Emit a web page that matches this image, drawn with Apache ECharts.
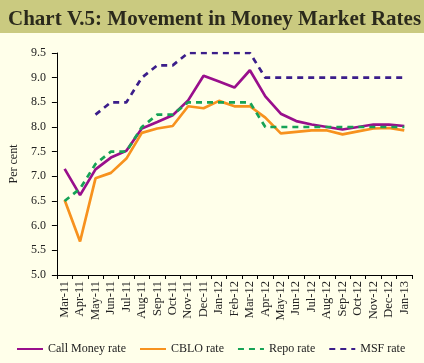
<!DOCTYPE html>
<html><head><meta charset="utf-8">
<script src="https://cdn.jsdelivr.net/npm/echarts@6/dist/echarts.min.js"></script>
<style>html,body{margin:0;padding:0;background:#FFFFEA;}#c{width:424px;height:363px;}</style>
</head><body><div id="c"></div>
<script>
const categories = ['Mar-11','Apr-11','May-11','Jun-11','Jul-11','Aug-11','Sep-11','Oct-11','Nov-11','Dec-11','Jan-12','Feb-12','Mar-12','Apr-12','May-12','Jun-12','Jul-12','Aug-12','Sep-12','Oct-12','Nov-12','Dec-12','Jan-13'];
const callMoney = [7.15,6.62,7.14,7.38,7.52,7.97,8.1,8.24,8.54,9.04,8.92,8.8,9.15,8.62,8.27,8.12,8.05,8.0,7.95,8.0,8.05,8.05,8.02];
const cblo = [6.52,5.68,6.96,7.07,7.36,7.88,7.97,8.02,8.42,8.38,8.53,8.42,8.42,8.19,7.87,7.9,7.93,7.93,7.85,7.91,7.97,7.98,7.93];
const repo = [6.5,6.75,7.25,7.5,7.5,8.0,8.25,8.25,8.5,8.5,8.5,8.5,8.5,8.0,8.0,8.0,8.0,8.0,8.0,8.0,8.0,8.0,8.0];
const msf = [null,null,8.25,8.5,8.5,9.0,9.25,9.25,9.5,9.5,9.5,9.5,9.5,9.0,9.0,9.0,9.0,9.0,9.0,9.0,9.0,9.0,9.0];
const yTicks = ['5.0','5.5','6.0','6.5','7.0','7.5','8.0','8.5','9.0','9.5'];

const serif = 'Liberation Serif';
const chart = echarts.init(document.getElementById('c'), null, {renderer:'canvas'});
function line(name, data, color, dashed){
  return {name, type:'line', data, showSymbol:false, symbol:'none', connectNulls:false,
    lineStyle:{color, width:2.7, type: dashed ? [6,5] : 'solid'}, itemStyle:{color}};
}
chart.setOption({
  backgroundColor:'#FFFFEA',
  animation:false,
  graphic:[{type:'rect', shape:{x:0,y:0,width:424,height:33}, style:{fill:'#CACA80'}, z:-1}],
  title:{text:'Chart V.5: Movement in Money Market Rates', left:3, top:4,
    textStyle:{fontFamily:serif, fontSize:21, fontWeight:'bold', color:'#2B2A1C'}},
  grid:{left:49, right:12, top:53, bottom:88},
  xAxis:{type:'category', data:categories, boundaryGap:true,
    axisLine:{lineStyle:{color:'#000', width:1}},
    axisTick:{show:true, length:4, lineStyle:{color:'#000'}},
    axisLabel:{rotate:90, interval:0, fontFamily:serif, fontSize:12.5, color:'#222', margin:6}},
  yAxis:{type:'value', min:5, max:9.5, interval:0.5,
    name:'Per cent', nameLocation:'middle', nameGap:34, nameRotate:90,
    nameTextStyle:{fontFamily:serif, fontSize:12, color:'#222'},
    axisLine:{show:true, lineStyle:{color:'#000', width:1}},
    axisTick:{show:true, length:5, lineStyle:{color:'#000'}},
    splitLine:{show:false},
    axisLabel:{fontFamily:serif, fontSize:12, color:'#222', margin:11,
      formatter:(v)=>yTicks[Math.round((v-5)/0.5)]}},
  legend:{top:341, left:14, right:0, itemGap:13, itemWidth:26, itemHeight:4, padding:2,
    itemStyle:{opacity:0},
    textStyle:{fontFamily:serif, fontSize:12, color:'#222'},
    data:['Call Money rate','CBLO rate','Repo rate','MSF rate']},
  series:[
    line('Call Money rate', callMoney, '#990F8C', false),
    line('CBLO rate', cblo, '#F7921E', false),
    line('Repo rate', repo, '#16A356', true),
    line('MSF rate', msf, '#3B1E8A', true)
  ]
});
</script></body></html>
